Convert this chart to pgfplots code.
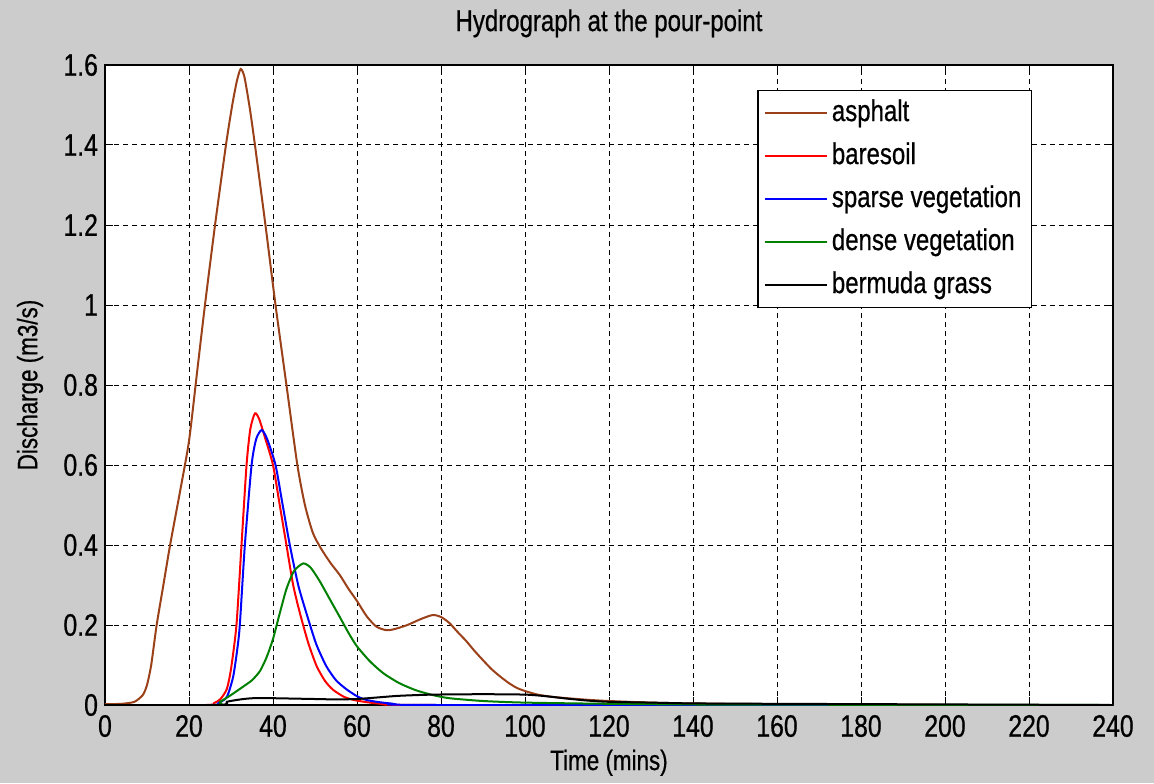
\documentclass[border=0pt]{standalone}
\usepackage{pgfplots}
\pgfplotsset{compat=1.18}
\usepackage{fontspec}
\setmainfont{Liberation Sans}[FakeStretch=0.8, FakeBold=0.6]
\definecolor{figgray}{RGB}{204,204,204}
\definecolor{asph}{RGB}{155,65,25}
\definecolor{mgreen}{RGB}{0,128,0}

\begin{document}
\begin{tikzpicture}
% figure background (matlab grey)
\fill[figgray] (-52.5pt,-39pt) rectangle (524.5pt,352.5pt);
\begin{axis}[
    scale only axis,
    width=504pt, height=320pt,
    xmin=0, xmax=240, ymin=0, ymax=1.6,
    xtick={0,20,...,240},
    ytick={0,0.2,0.4,0.6,0.8,1,1.2,1.4,1.6},
    yticklabels={0,0.2,0.4,0.6,0.8,1,1.2,1.4,1.6},
    /pgf/number format/assume math mode=true,
    tick align=inside,
    major tick length=4pt,
    tick style={black, line width=0.5pt},
    axis line style={black, line width=0.8pt},
    axis background/.style={fill=white},
    grid=major,
    grid style={black, line width=0.5pt, dash pattern=on 2.5pt off 2pt},
    ticklabel style={font=\fontsize{15.5}{17}\selectfont},
    xticklabel style={yshift=-1.5pt},
    every axis title shift=0pt,
    title={Hydrograph at the pour-point},
    title style={font=\fontsize{15}{17}\selectfont, at={(axis description cs:0.5,1.053)}, anchor=base, inner sep=0pt},
    xlabel={Time (mins)},
    xlabel style={font=\fontsize{14}{16}\selectfont, at={(axis description cs:0.5,-0.1016)}, anchor=base, inner sep=0pt},
    ylabel={Discharge (m3/s)},
    ylabel style={font=\fontsize{14}{16}\selectfont, at={(axis description cs:-0.0744,0.5)}, anchor=center, inner sep=0pt},
    legend cell align=left,
    legend image code/.code={\draw[#1] (0pt,0pt) -- (31pt,0pt);},
    legend style={
        at={(axis description cs:0.9196,0.961)}, anchor=north east,
        draw=black, line width=0.6pt, fill=white,
        font=\fontsize{15}{17}\selectfont,
        row sep=3.5pt, inner xsep=3pt, inner ysep=2.25pt,
        nodes={text height=11pt, text depth=3pt, inner sep=2pt},
    },
    every axis plot/.append style={line width=1pt, smooth, tension=0.4},
]
\addplot[asph] coordinates {
(0,0.002) (4,0.003) (7,0.008) (9,0.025) (10,0.05) (11,0.1) (12.3,0.2)
(13.9,0.3) (15.5,0.4) (17.8,0.53) (20,0.66) (21.9,0.83) (23.8,1.0)
(26.2,1.2) (28.8,1.4) (30.3,1.5) (31.4,1.56) (32.3,1.59) (33.2,1.57)
(34.5,1.49) (35.7,1.4) (38.2,1.2) (40.6,1.0) (43.2,0.8) (45.8,0.6)
(47.6,0.5) (49.5,0.43) (51.5,0.39) (53.7,0.355) (55.9,0.325) (58,0.29)
(60,0.26) (62.3,0.222) (64.6,0.196) (67,0.187) (69,0.19) (72,0.2)
(75,0.214) (78,0.225) (80,0.22) (82,0.205) (84,0.182) (86,0.16)
(88,0.135) (90,0.112) (92,0.09) (94,0.072) (96,0.056) (98,0.043)
(100,0.035) (103,0.026) (106,0.021) (110,0.017) (115,0.013) (120,0.01)
(130,0.006) (140,0.004) (160,0.002) (180,0.001) (200,0) (240,0)
};
\addlegendentry{asphalt}
\addplot[red] coordinates {
(0,0) (24,0) (26,0.005) (27.5,0.015) (29,0.04) (30,0.09) (31.3,0.2)
(32.5,0.4) (33.7,0.6) (34.6,0.69) (35.7,0.729) (36.7,0.715) (38.2,0.665)
(40,0.6) (41.6,0.5) (43.2,0.4) (44.8,0.3) (46.4,0.23) (48.4,0.155)
(50.4,0.097) (52.4,0.06) (54.3,0.038) (57,0.02) (60,0.011) (66,0.003)
(80,0) (240,0)
};
\addlegendentry{baresoil}
\addplot[blue] coordinates {
(0,0) (25,0) (27,0.005) (29,0.02) (30.5,0.07) (31.5,0.14) (32.1,0.2)
(33.3,0.4) (34.9,0.6) (36,0.665) (37.3,0.6875) (38.6,0.665) (40.6,0.6)
(42.3,0.5) (44,0.4) (46,0.3) (48,0.228) (50.3,0.152) (52.7,0.097)
(55,0.062) (57.4,0.04) (60,0.022) (62.5,0.012) (68,0.004) (80,0) (240,0)
};
\addlegendentry{sparse vegetation}
\addplot[mgreen] coordinates {
(0,0) (26,0) (27.4,0.008) (30,0.025) (32.9,0.046) (35,0.062) (36.9,0.085)
(38.5,0.12) (40,0.165) (41.5,0.225) (43.2,0.29) (45,0.335) (47.2,0.354)
(49,0.343) (51.1,0.31) (53.5,0.265) (55.9,0.22) (58,0.18) (59.9,0.148)
(63,0.11) (66.2,0.08) (70,0.055) (74,0.037) (78,0.025) (82,0.017)
(90,0.01) (100,0.006) (120,0.003) (148,0.001) (240,0)
};
\addlegendentry{dense vegetation}
\addplot[black] coordinates {
(0,0) (27,0) (29,0.008) (31,0.012) (33,0.015) (35.3,0.017) (40,0.017)
(45,0.016) (50,0.015) (55,0.014) (60,0.015) (65,0.019) (70,0.023)
(78,0.026) (90,0.027) (100,0.026) (105,0.022) (110,0.016) (115,0.011)
(120,0.008) (130,0.006) (140,0.004) (160,0.003) (186,0.002) (240,0)
};
\addlegendentry{bermuda grass}
\end{axis}
\end{tikzpicture}
\end{document}
